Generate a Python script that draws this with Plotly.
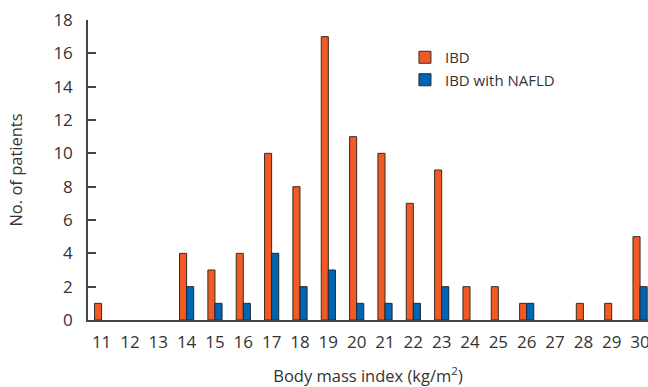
import plotly.graph_objects as go

bmi = list(range(11, 31))
ibd = [1, None, None, 4, 3, 4, 10, 8, 17, 11, 10, 7, 9, 2, 2, 1, None, 1, 1, 5]
ibd_nafld = [None, None, None, 2, 1, 1, 4, 2, 3, 1, 1, 1, 2, None, None, 1, None, None, None, 2]
y_ticks = list(range(0, 19, 2))

font = "Open Sans, Liberation Sans, Arial, sans-serif"
fig = go.Figure()
fig.add_trace(go.Bar(x=bmi, y=ibd, name="IBD",
                     marker=dict(color="#F15A24", line=dict(color="#3a2a22", width=1))))
fig.add_trace(go.Bar(x=bmi, y=ibd_nafld, name="IBD with NAFLD",
                     marker=dict(color="#0066B3", line=dict(color="#1a2a3a", width=1))))

fig.update_layout(
    width=648, height=387,
    margin=dict(l=88, r=0, t=20, b=67),
    paper_bgcolor="white", plot_bgcolor="white",
    barmode="group", bargap=0.5, bargroupgap=0,
    font=dict(family=font, size=15, color="#333333"),
    showlegend=True,
    legend=dict(x=0.566, y=0.93, xanchor="left", yanchor="top",
                font=dict(size=15, color="#333333"), bgcolor="rgba(0,0,0,0)",
                itemwidth=30, tracegroupgap=0),
    xaxis=dict(range=[10.52, 30.28], tickmode="array", tickvals=bmi,
               ticktext=[str(v) for v in bmi], showgrid=False, zeroline=False,
               showline=True, linecolor="#444444", linewidth=1.5,
               automargin=False, ticklabeloverflow="allow",
               ticks="outside", ticklen=6, tickcolor="rgba(0,0,0,0)",
               tickfont=dict(size=17, color="#333333"),
               title=dict(text="Body mass index (kg/m<sup>2</sup>)", standoff=20,
                          font=dict(size=16.5, color="#333333"))),
    yaxis=dict(range=[0, 18], tickmode="array", tickvals=y_ticks,
               showgrid=False, zeroline=False,
               showline=True, linecolor="#444444", linewidth=1.5,
               automargin=False,
               ticks="inside", ticklen=8, tickcolor="#444444", tickwidth=1.5,
               ticklabelstandoff=10,
               tickfont=dict(size=17, color="#333333"),
               title=dict(text="No. of patients", standoff=27,
                          font=dict(size=16.5, color="#333333"))),
)

fig.write_html("out.html", config={"displayModeBar": False},
               post_script="document.body.style.margin='0';document.body.style.overflow='hidden';")
